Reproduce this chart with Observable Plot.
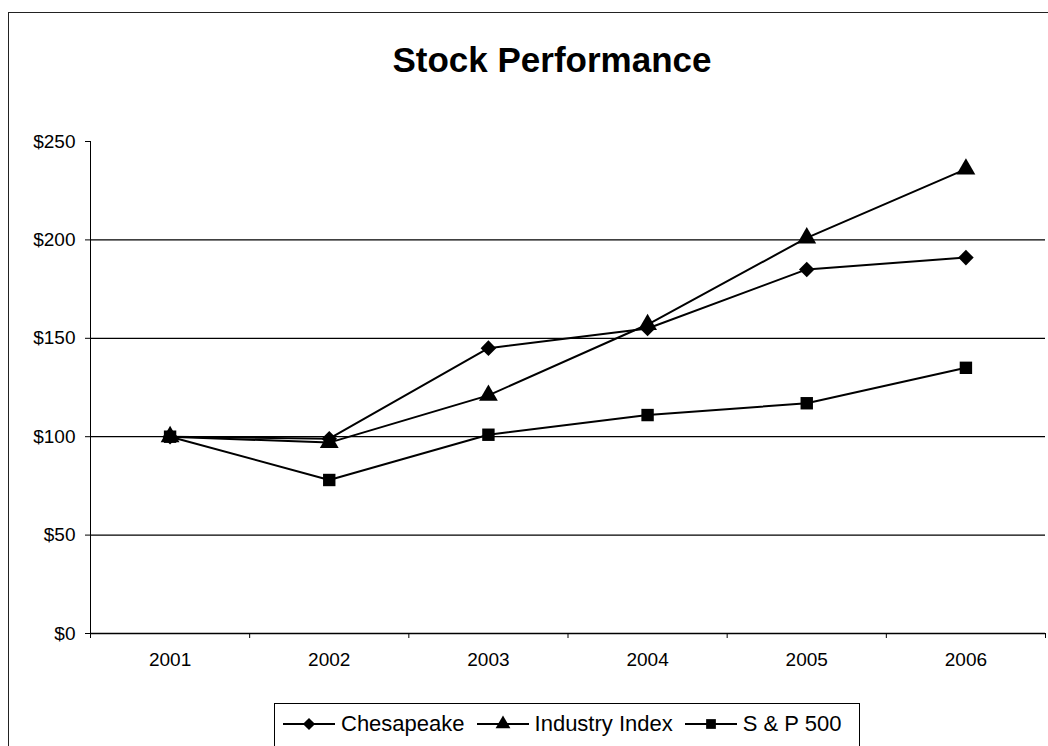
<!DOCTYPE html>
<html><head><meta charset="utf-8">
<script src="https://cdn.jsdelivr.net/npm/d3@7"></script>
<script src="https://cdn.jsdelivr.net/npm/@observablehq/plot@0.6"></script>
<style>
html,body{margin:0;padding:0;background:#fff;overflow:hidden;}
#wrap{position:relative;width:1048px;height:746px;overflow:hidden;font-family:Arial,"Liberation Sans",sans-serif;color:#000;background:#fff;}
#frame{position:absolute;left:8px;top:12px;width:1100px;height:800px;border-left:1px solid #222;border-top:1px solid #222;}
#title{position:absolute;left:0;width:1104px;top:40px;text-align:center;font-weight:bold;font-size:35px;line-height:40px;}
#chart{position:absolute;left:0;top:100px;}
#legend{position:absolute;left:274px;top:703px;width:586px;height:80px;border:1px solid #000;box-sizing:border-box;display:flex;flex-wrap:nowrap;align-items:flex-start;padding-top:7px;padding-left:8px;font-size:22px;line-height:26px;white-space:nowrap;}
.item{display:flex;align-items:center;margin-right:12px;flex-shrink:0;white-space:nowrap;}
.item svg{margin-right:6px;flex-shrink:0;}
</style></head>
<body>
<div id="wrap">
  <div id="frame"></div>
  <div id="title">Stock Performance</div>
  <div id="chart"></div>
  <div id="legend"></div>
</div>
<script>
const years = [2001, 2002, 2003, 2004, 2005, 2006];
const seriesNames = ["Chesapeake", "Industry Index", "S & P 500"];
const chesapeake = [100, 99, 145, 155, 185, 191];
const industry = [100, 97, 121, 157, 201, 236];
const sp500 = [100, 78, 101, 111, 117, 135];
const yTicks = [0, 50, 100, 150, 200, 250];
const gridValues = [50, 100, 150, 200];
const symbols = ["diamond2", "triangle", "square"];

const valuesBySeries = [chesapeake, industry, sp500];
const data = [];
seriesNames.forEach((s, i) => years.forEach((yr, j) => data.push({series: s, year: yr, value: valuesBySeries[i][j]})));
const bounds = years.map(y => y - 0.5).concat([years[years.length - 1] + 0.5]);

const chart = Plot.plot({
  width: 1048,
  height: 580,
  marginLeft: 90,
  marginRight: 3,
  marginTop: 41,
  marginBottom: 47,
  style: {fontFamily: "Arial, 'Liberation Sans', sans-serif", background: "transparent", color: "#000"},
  x: {type: "linear", domain: [bounds[0], bounds[bounds.length - 1]]},
  y: {domain: [0, 250]},
  symbol: {domain: seriesNames, range: symbols},
  marks: [
    Plot.ruleY(gridValues, {stroke: "#000", strokeWidth: 1.3}),
    Plot.ruleY([0], {stroke: "#000", strokeWidth: 1.3}),
    Plot.ruleX([bounds[0]], {y1: 0, y2: 250, stroke: "#000", strokeWidth: 1}),
    Plot.axisY({ticks: yTicks, tickSize: 5, tickPadding: 10, tickFormat: d => "$" + d, fontSize: 19, label: null, stroke: "#000"}),
    Plot.axisX({ticks: bounds, tickSize: 5, tickFormat: () => "", label: null}),
    Plot.axisX({ticks: years, tickSize: 0, tickPadding: 19, tickFormat: d => String(d), fontSize: 19, label: null}),
    Plot.line(data, {x: "year", y: "value", z: "series", stroke: "#000", strokeWidth: 2}),
    Plot.dot(data, {x: "year", y: "value", symbol: "series", fill: "#000", stroke: "none", r: 7})
  ]
});
document.getElementById("chart").appendChild(chart);

const symMap = {diamond2: d3.symbolDiamond2 || d3.symbolDiamond, triangle: d3.symbolTriangle, square: d3.symbolSquare};
const legend = d3.select("#legend");
seriesNames.forEach((s, i) => {
  const item = legend.append("div").attr("class", "item");
  const svg = item.append("svg").attr("width", 52).attr("height", 20);
  svg.append("line").attr("x1", 0).attr("x2", 52).attr("y1", 10).attr("y2", 10).attr("stroke", "#000").attr("stroke-width", 2);
  svg.append("path").attr("transform", "translate(26,10)")
    .attr("d", d3.symbol(symMap[symbols[i]], Math.PI * 5.5 * 5.5)()).attr("fill", "#000");
  item.append("span").text(s);
});
</script>
</body></html>
